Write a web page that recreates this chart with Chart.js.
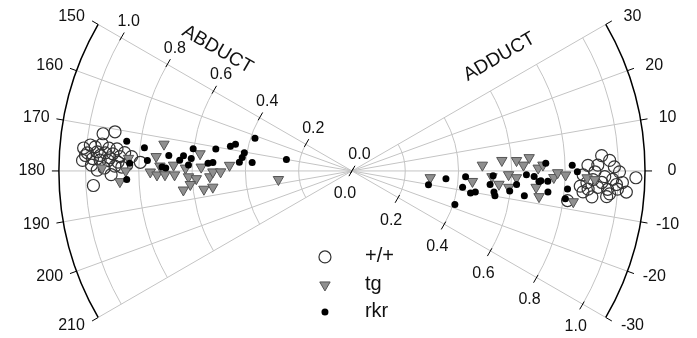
<!DOCTYPE html>
<html>
<head>
<meta charset="utf-8">
<script src="https://cdn.jsdelivr.net/npm/chart.js@4.4.0/dist/chart.umd.min.js"></script>
<style>
html, body { margin: 0; padding: 0; background: #fff; }
#wrap { width: 697px; height: 338px; }
</style>
</head>
<body>
<div id="wrap"><canvas id="polar"></canvas></div>
<script>
// each point is [angle in degrees, radius]
var wtAbduct = [[171.3,0.945],[170.4,0.902],[175.0,1.011],[174.2,0.987],[174.5,0.968],[173.7,0.943],[174.5,0.916],[174.5,0.886],
    [176.0,0.995],[175.6,0.959],[175.7,0.929],[175.8,0.900],[176.4,0.873],[176.2,0.829],[177.6,0.795],[177.7,1.012],
    [177.2,0.975],[177.5,0.946],[177.5,0.916],[177.8,0.879],[178.5,0.846],[179.8,0.956],[179.3,0.930],[180.9,0.904],
    [179.0,0.864],[183.3,0.972],[176.6,1.002],[176.4,0.947],[176.8,0.910],[178.7,0.978],[178.8,0.890],[175.3,0.856]];
var tgAbduct = [[182.7,0.872],[180.0,0.849],[176.7,0.840],[179.3,0.938],[180.3,0.757],[175.7,0.737],[181.2,0.732],[171.7,0.713],
    [181.2,0.702],[178.1,0.670],[181.3,0.666],[179.0,0.625],[182.1,0.614],[182.9,0.585],[184.9,0.609],[186.6,0.637],
    [173.4,0.574],[178.5,0.566],[182.4,0.534],[180.4,0.522],[180.4,0.493],[177.3,0.460],[187.2,0.560],[186.8,0.526],
    [186.8,0.278],[178.5,0.721]];
var rkrAbduct = [[172.3,0.853],[173.5,0.784],[178.0,0.835],[177.0,0.769],[182.2,0.846],[178.8,0.713],[179.1,0.699],[175.1,0.690],
    [174.7,0.635],[175.5,0.605],[171.9,0.602],[177.9,0.614],[176.9,0.541],[176.4,0.523],[170.6,0.518],[168.2,0.466],
    [166.8,0.449],[170.2,0.410],[172.9,0.415],[175.5,0.424],[175.0,0.376],[161.0,0.385],[169.8,0.250],[176.4,0.648]];

var wtAdduct = [[3.6,0.939],[2.4,0.968],[1.4,0.886],[1.4,0.923],[-0.2,1.004],[-1.4,1.066],[-1.0,0.868],[-2.1,0.905],
    [-1.3,0.949],[-1.9,0.979],[-2.5,1.016],[-3.9,0.859],[-4.5,0.889],[-3.9,0.925],[-4.2,0.962],[-4.0,0.999],
    [-4.5,1.033],[-6.3,0.906],[-5.9,0.961],[-5.3,0.871],[-8.0,0.817],[-2.7,0.939],[-3.0,0.994],[-2.9,0.883],
    [-5.2,0.971],[-0.2,0.912],[0.9,0.985]];
var tgAdduct = [[-5.0,0.295],[-5.1,0.454],[4.1,0.564],[3.7,0.619],[4.4,0.667],[2.0,0.644],[0.9,0.699],[-2.4,0.526],
    [-1.4,0.588],[-5.3,0.554],[-6.1,0.592],[-5.2,0.694],[-8.0,0.709],[1.8,0.717],[-1.9,0.758],[-8.1,0.839],
    [-1.7,0.883],[-2.1,0.912],[-0.5,0.772],[-1.1,0.802],[2.6,0.490],[-2.4,0.618]];
var rkrAdduct = [[-10.5,0.292],[-4.8,0.354],[-3.0,0.427],[-8.6,0.420],[-10.8,0.453],[-9.9,0.470],[-18.4,0.407],[-5.7,0.521],
    [-8.6,0.539],[-10.1,0.545],[-7.4,0.597],[-4.8,0.620],[-8.4,0.654],[-1.3,0.655],[-1.8,0.684],[-3.3,0.703],
    [-2.0,0.530],[2.3,0.728],[1.5,0.827],[-0.2,0.846],[-3.1,0.736],[-4.9,0.812],[-6.3,0.740],[-7.6,0.808],[-3.0,0.710]];

var abductAngles = [150, 160, 170, 180, 190, 200, 210];
var adductAngles = [30, 20, 10, 0, -10, -20, -30];
var radialTicks = [0.0, 0.2, 0.4, 0.6, 0.8, 1.0];
var seriesNames = ['+/+', 'tg', 'rkr'];
var sideTitles = ['ABDUCT', 'ADDUCT'];

var FONT = "'Liberation Sans', Arial, sans-serif";
var RMAX = 1.1;

function toXY(p) {
    var a = p[0] * Math.PI / 180;
    return { x: p[1] * Math.cos(a), y: p[1] * Math.sin(a) };
}

var fans = [
    { angles: abductAngles, from: 150, to: 210, spoke: 150, off: [7.5, -16], title: sideTitles[0], titlePos: [137.9, 0.68], titleRot: 30 },
    { angles: adductAngles, from: -30, to: 30, spoke: -30, off: [-7, 22.5], title: sideTitles[1], titlePos: [37.7, 0.70], titleRot: -30 }
];

var polarGrid = {
    id: 'polarGrid',
    beforeDatasetsDraw: function(chart) {
        var ctx = chart.ctx;
        var xs = chart.scales.x, ys = chart.scales.y;
        var cx = xs.getPixelForValue(0), cy = ys.getPixelForValue(0);
        var unit = xs.getPixelForValue(1) - cx;
        function pt(deg, r, extra) {
            var a = deg * Math.PI / 180;
            var d = r * unit + (extra || 0);
            return [cx + d * Math.cos(a), cy - d * Math.sin(a)];
        }
        ctx.save();
        fans.forEach(function(f) {
            // gray arcs
            ctx.strokeStyle = '#c4c4c4';
            ctx.lineWidth = 1;
            radialTicks.forEach(function(r) {
                if (r === 0) return;
                ctx.beginPath();
                ctx.arc(cx, cy, r * unit, -f.to * Math.PI / 180, -f.from * Math.PI / 180);
                ctx.stroke();
            });
            // spokes
            f.angles.forEach(function(a) {
                var p = pt(a, RMAX);
                ctx.beginPath();
                ctx.moveTo(cx, cy);
                ctx.lineTo(p[0], p[1]);
                ctx.stroke();
            });
            // outer black arc
            ctx.strokeStyle = '#000';
            ctx.lineWidth = 1.5;
            ctx.beginPath();
            ctx.arc(cx, cy, RMAX * unit, -f.to * Math.PI / 180, -f.from * Math.PI / 180);
            ctx.stroke();
            // angle ticks and labels
            ctx.lineWidth = 1;
            ctx.fillStyle = '#111';
            ctx.font = '16px ' + FONT;
            ctx.textAlign = 'center';
            ctx.textBaseline = 'middle';
            f.angles.forEach(function(a) {
                var p0 = pt(a, RMAX), p1 = pt(a, RMAX, 7);
                ctx.beginPath();
                ctx.moveTo(p0[0], p0[1]);
                ctx.lineTo(p1[0], p1[1]);
                ctx.stroke();
                var base = a > 90 ? 180 : 0;
                var lp = pt(base + (a - base) * 0.96, RMAX, 27);
                ctx.fillText(String(a), lp[0], lp[1]);
            });
            // radial ticks on the edge spoke
            var s = f.spoke * Math.PI / 180;
            var ux = Math.cos(s), uy = -Math.sin(s);
            var nx = -uy, ny = ux;
            radialTicks.forEach(function(r) {
                var p = pt(f.spoke, r);
                ctx.beginPath();
                ctx.moveTo(p[0] - 3 * nx, p[1] - 3 * ny);
                ctx.lineTo(p[0] + 6 * nx, p[1] + 6 * ny);
                ctx.stroke();
                ctx.fillText(r.toFixed(1), p[0] + f.off[0], p[1] + f.off[1]);
            });
            // side title
            var tp = pt(f.titlePos[0], f.titlePos[1]);
            ctx.save();
            ctx.translate(tp[0], tp[1]);
            ctx.rotate(f.titleRot * Math.PI / 180);
            ctx.font = '19px ' + FONT;
            ctx.fillText(f.title, 0, 0);
            ctx.restore();
        });
        ctx.restore();
    },
    afterDatasetsDraw: function(chart) {
        // legend below the centre
        var ctx = chart.ctx;
        var xs = chart.scales.x, ys = chart.scales.y;
        var cx = xs.getPixelForValue(0), cy = ys.getPixelForValue(0);
        var mx = cx - 27, tx = cx + 13;
        var rows = [cy + 86, cy + 114, cy + 141];
        ctx.save();
        // circle
        ctx.strokeStyle = '#333';
        ctx.lineWidth = 1.2;
        ctx.beginPath();
        ctx.arc(mx, rows[0], 6, 0, Math.PI * 2);
        ctx.stroke();
        // triangle
        ctx.fillStyle = '#8f8f8f';
        ctx.strokeStyle = '#555';
        ctx.lineWidth = 1;
        ctx.beginPath();
        ctx.moveTo(mx - 5.2, rows[1] - 3);
        ctx.lineTo(mx + 5.2, rows[1] - 3);
        ctx.lineTo(mx, rows[1] + 6);
        ctx.closePath();
        ctx.fill();
        ctx.stroke();
        // dot
        ctx.fillStyle = '#000';
        ctx.beginPath();
        ctx.arc(mx, rows[2], 3.5, 0, Math.PI * 2);
        ctx.fill();
        ctx.font = '20px ' + FONT;
        ctx.fillStyle = '#111';
        ctx.textAlign = 'left';
        ctx.textBaseline = 'middle';
        seriesNames.forEach(function(n, i) {
            ctx.fillText(n, tx, rows[i]);
        });
        ctx.restore();
    }
};

new Chart(document.getElementById('polar'), {
    type: 'scatter',
    data: {
        datasets: [{
            label: seriesNames[2],
            data: rkrAbduct.concat(rkrAdduct).map(toXY),
            pointStyle: 'circle',
            pointRadius: 3.5,
            backgroundColor: '#000',
            borderColor: '#000',
            borderWidth: 0,
            order: 0
        }, {
            label: seriesNames[1],
            data: tgAbduct.concat(tgAdduct).map(toXY),
            pointStyle: 'triangle',
            rotation: 180,
            pointRadius: 6,
            backgroundColor: '#8f8f8f',
            borderColor: '#555',
            borderWidth: 1,
            order: 1
        }, {
            label: seriesNames[0],
            data: wtAbduct.concat(wtAdduct).map(toXY),
            pointStyle: 'circle',
            pointRadius: 6,
            backgroundColor: 'rgba(255,255,255,0)',
            borderColor: '#333',
            borderWidth: 1.2,
            order: 2
        }]
    },
    options: {
        responsive: true,
        maintainAspectRatio: false,
        animation: false,
        layout: { padding: 0 },
        clip: false,
        scales: {
            x: { type: 'linear', min: -1.294, max: 1.268, display: false },
            y: { type: 'linear', min: -0.614, max: 0.629, display: false }
        },
        plugins: {
            legend: { display: false },
            tooltip: { enabled: false }
        }
    },
    plugins: [polarGrid]
});
</script>
</body>
</html>
